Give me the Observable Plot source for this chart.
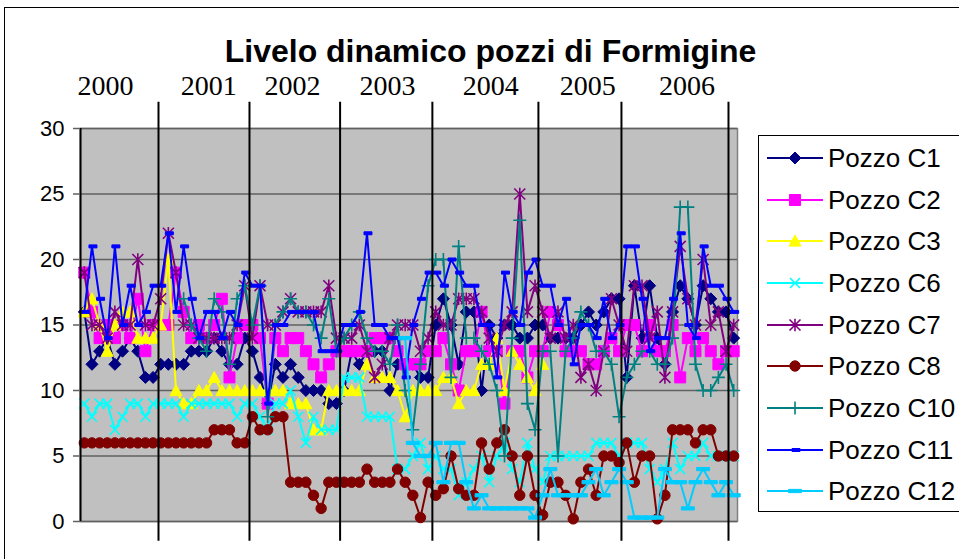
<!DOCTYPE html>
<html>
<head>
<meta charset="utf-8">
<script src="https://cdn.jsdelivr.net/npm/d3@7"></script>
<script src="https://cdn.jsdelivr.net/npm/@observablehq/plot@0.6"></script>
<style>
html,body{margin:0;padding:0;background:#fff;}
#wrap{position:relative;width:959px;height:559px;overflow:hidden;font-family:"Liberation Sans",Arial,sans-serif;background:#fff;}
#wrap svg{position:absolute;left:0;top:0;}
#border{position:absolute;left:4px;top:7px;width:1000px;height:600px;border:1px solid #000;box-sizing:border-box;pointer-events:none;}
#title{position:absolute;left:0;width:981px;top:35px;line-height:32px;text-align:center;font-weight:bold;font-size:32px;color:#000;white-space:nowrap;}
#legend{position:absolute;left:758px;top:135px;width:240px;height:377px;border:1px solid #000;box-sizing:border-box;background:#fff;}
.entry{position:absolute;left:765px;height:30px;line-height:30px;font-size:26px;white-space:nowrap;color:#000;}
.entry svg{position:static !important;vertical-align:top;}
.entry span{position:relative;left:3px;top:0;vertical-align:top;}
</style>
</head>
<body>
<div id="wrap">
  <div id="chart"></div>
  <div id="border"></div>
  <div id="title">Livelo dinamico pozzi di Formigine</div>
  <div id="legend"></div>
</div>
<script>
// ---------- data ----------
const pozzi = ["Pozzo C1","Pozzo C2","Pozzo C3","Pozzo C6","Pozzo C7","Pozzo C8","Pozzo C10","Pozzo C11","Pozzo C12"];
const colori = ["#000080","#FF00FF","#FFFF00","#00FFFF","#800080","#800000","#008080","#0000FF","#00CCFF"];

const c1 = [16,12,13,14,12,13,14,13,11,11, 12,12,12,12,13,13,13,14,13,12, 12,14,13,11,9,12,11,12,11,10,
  10,10,9,9,10,13,12,13,13,13, 10,12,12,12,11,11,15,17,15,12, 16,16,10,15,14,15,15,14,14,15,
  15,14,14,14,14,15,16,15,16,17, 17,11,18,14,18,14,12,16,18,17, 15,18,17,16,16,14];
const c2 = [19,16,14,15,14,15,14,17,13,15, 15,15,19,16,14,15,14,15,17,11, 14,15,15,14,9,14,13,14,14,13,
  12,11,12,13,13,13,13,13,14,14, 14,13,12,12,12,13,13,14,12,10, 13,13,16,13,13,9,13,13,11,13,
  13,16,15,13,13,13,12,12,13,14, 13,15,15,13,15,13,13,15,11,14, 13,14,13,12,13,13];
const c3 = [16,17,15,13,15,16,16,14,14,14, 15,20,10,9,9,10,10,11,10,10, 10,10,10,10,10,10,10,9,9,9,
  7,7,10,10,10,10,10,12,11,11, 11,10,8,10,10,10,10,11,11,9, 10,10,12,12,14,10,13,12,11,10,
  12,null,null,null,null,null,null,null,null,null, null,null,null,null,null,null,null,null,null,null,
  null,null,null,null,null,null];
const c6 = [9,8,9,9,7,8,9,9,8,9, 9,9,9,8,9,9,9,9,9,9, 8,9,9,8,7,9,9,10,8,6,
  8,7,7,7,11,11,11,8,8,8, 8,4,4,5,6,4,5,4,4,2, 3,4,5,3,5,6,4,3,6,4,
  3,5,5,5,5,5,5,6,6,6, 5,6,6,6,4,3,4,6,4,5, 5,6,5,5,5,5];
const c7 = [19,15,15,14,16,15,15,20,15,15, 17,22,19,15,15,14,14,14,14,14, 15,18,14,18,15,15,16,17,16,16,
  16,16,18,14,14,14,15,13,11,12, 14,15,15,15,13,14,16,15,15,17, 17,17,16,14,13,15,16,25,16,18,
  16,14,16,14,15,11,12,10,13,17, 15,13,18,18,14,16,11,16,21,17, 15,20,15,16,13,15];
const c8 = [6,6,6,6,6,6,6,6,6,6, 6,6,6,6,6,6,6,7,7,7, 6,6,8,7,7,8,8,3,3,3,
  2,1,3,3,3,3,3,4,3,3, 3,4,3,2,0.3,3,2,2.5,5,2.5, 2,2,6,4,6,7,5,2,5,2,
  0.5,3,3,2,0.2,3,4,2,5,5, 4.5,6,3,5,5,0.2,2,7,7,7, 6,7,7,5,5,5];
const c10 = [null,null,null,null,null,null,null,null,null,null, null,null,null,17,15,14,13,17,16,12,
  17,18,15,18,8,15,16,17,16,16, 15,14,17,13,14,15,16,14,13,13, 12,15,10,7,12,18,20,20,11,21,
  14,14,13,12,10,5,14,23,9,7, 13,13,5,13,14,16,15,13,13,12, 8,11,12,13,13,12,12,14,24,24,
  12,10,10,11,12,10];
const c11 = [16,21,17,14,21,15,18,15,16,18, 18,22,16,21,17,14,16,16,14,16, 15,19,18,18,9,15,15,16,16,16,
  16,13,13,13,15,15,16,22,15,15, 14,14,11,15,17,19,19,18,20,19, 18,18,15,15,11,19,16,15,19,20,
  18,18,15,17,12,15,15,14,17,14, 15,21,21,17,13,14,14,17,22,15, 14,21,18,18,17,16];
const c12 = [null,null,null,null,null,null,null,null,null,null, null,null,null,null,null,null,null,null,null,null,
  null,null,null,null,null,null,null,null,null,null, null,null,null,null,null,null,null,null,null,null,
  null,null,14,6,5,5,6,3,6,6, 3,1,2,1,1,1,1,1,1,0.3, 2,4,2,2,2,2,3,4,2,3,
  4,3,0.3,0.3,0.3,0.3,4,3,3,1, 3,4,3,2,3,2];

const valori = [c1,c2,c3,c6,c7,c8,c10,c11,c12];

const yTicks = [0,5,10,15,20,25,30];
const anni = ["2000","2001","2002","2003","2004","2005","2006"];
// position of each year label and each separating line, in sample-index units
const anniPos = [2.77,16.3,27.25,39.7,53.2,65.9,78.9];
const separatori = [9.71,21.62,33.48,45.56,59.44,70.31,84.32];

// ---------- markers ----------
const sym = f => ({draw(ctx, size){ f(ctx, Math.sqrt(size/Math.PI)); }});
const diamondSym = sym((c,r)=>{c.moveTo(0,-r);c.lineTo(r,0);c.lineTo(0,r);c.lineTo(-r,0);c.closePath();});
const squareSym  = sym((c,r)=>{c.rect(-r,-r,2*r,2*r);});
const triSym     = sym((c,r)=>{c.moveTo(0,-r);c.lineTo(r,r*0.85);c.lineTo(-r,r*0.85);c.closePath();});
const timesSym   = sym((c,r)=>{c.moveTo(-r,-r);c.lineTo(r,r);c.moveTo(-r,r);c.lineTo(r,-r);});
const starSym    = sym((c,r)=>{c.moveTo(-r,-r);c.lineTo(r,r);c.moveTo(-r,r);c.lineTo(r,-r);c.moveTo(0,-r*1.15);c.lineTo(0,r*1.15);});
const circleSym  = sym((c,r)=>{c.moveTo(r,0);c.arc(0,0,r,0,2*Math.PI);});
const plusSym    = sym((c,r)=>{c.moveTo(-r,0);c.lineTo(r,0);c.moveTo(0,-r);c.lineTo(0,r);});
const dashSym    = sym((c,r)=>{c.rect(-r*0.6,-r*0.3,r*1.6,r*0.6);});
const longDashSym= sym((c,r)=>{c.rect(-r,-r*0.25,2*r,r*0.5);});

const stili = [
  {symbol: diamondSym, r: 6,   filled: true},
  {symbol: squareSym,  r: 5.5, filled: true},
  {symbol: triSym,     r: 6,   filled: true},
  {symbol: timesSym,   r: 5,   filled: false},
  {symbol: starSym,    r: 5.5, filled: false},
  {symbol: circleSym,  r: 5.2, filled: true},
  {symbol: plusSym,    r: 6.5, filled: false},
  {symbol: dashSym,    r: 5,   filled: true},
  {symbol: longDashSym,r: 6.5, filled: true}
];

// ---------- marks ----------
const seriesMarks = [];
valori.forEach((vals, k) => {
  const col = colori[k], st = stili[k];
  const pts = vals.map((v, i) => ({i, v}));
  seriesMarks.push(Plot.line(pts, {x: "i", y: "v", stroke: col, strokeWidth: 2, curve: "linear"}));
  seriesMarks.push(Plot.dot(pts.filter(d => d.v != null), {
    x: "i", y: "v", symbol: st.symbol, r: st.r,
    fill: st.filled ? col : "none", stroke: col, strokeWidth: st.filled ? 1 : 1.6
  }));
});

const chart = Plot.plot({
  width: 959, height: 559,
  marginLeft: 80, marginRight: 222, marginTop: 128, marginBottom: 38,
  x: {domain: [-0.5, 85.5], axis: null},
  y: {domain: [0, 30], axis: null},
  style: {background: "transparent", fontFamily: "'Liberation Sans', Arial, sans-serif", fontSize: "22px", overflow: "visible"},
  marks: [
    Plot.frame({fill: "#C0C0C0", stroke: "#808080", strokeWidth: 1.5}),
    Plot.ruleY(yTicks, {stroke: "#606060", strokeWidth: 1.5}),
    ...seriesMarks,
    Plot.ruleX([-0.5], {y1: 0, y2: 30, stroke: "black", strokeWidth: 2}),
    Plot.axisY({ticks: yTicks, tickSize: 7, tickPadding: 9, fontSize: 22, stroke: "#606060", strokeWidth: 1.5, fill: "black", label: null}),
    Plot.ruleX(separatori, {y1: -1.5, y2: 32, stroke: "black", strokeWidth: 2}),
    Plot.text(anni, {x: (d, i) => anniPos[i], y: 32.55, text: d => d, fontSize: 28,
      fontFamily: "'Liberation Serif', 'Times New Roman', serif", lineAnchor: "bottom", fill: "black"})
  ]
});
document.getElementById("chart").appendChild(chart);

// ---------- legend ----------
const wrap = document.getElementById("wrap");
pozzi.forEach((name, k) => {
  const cy = 158 + k * 41.67;
  const div = document.createElement("div");
  div.className = "entry";
  div.style.top = (cy - 15) + "px";
  const st = stili[k], col = colori[k];
  const p = d3.path();
  st.symbol.draw(p, st.r * st.r * Math.PI);
  div.innerHTML =
    `<svg width="60" height="30" viewBox="0 0 60 30">` +
    `<line x1="2" y1="15" x2="58" y2="15" stroke="${col}" stroke-width="2"/>` +
    `<path transform="translate(30,15)" d="${p.toString()}" fill="${st.filled ? col : "none"}" stroke="${col}" stroke-width="${st.filled ? 1 : 1.6}"/>` +
    `</svg><span>${name}</span>`;
  wrap.appendChild(div);
});
</script>
</body>
</html>
